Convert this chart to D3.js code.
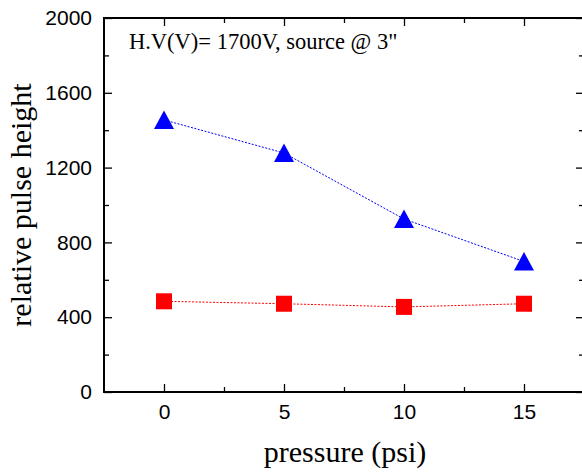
<!DOCTYPE html>
<html>
<head>
<meta charset="utf-8">
<script src="https://cdn.jsdelivr.net/npm/d3@7"></script>
<style>
  body { margin: 0; background: #fff; }
  svg { display: block; }
</style>
</head>
<body>
<div id="chart"></div>
<script>
// data
const pressure = [0, 5, 10, 15];
const triangleSeries = [1455, 1278, 925, 698];
const squareSeries = [485, 472, 455, 472];
const xTicks = [0, 5, 10, 15];
const yTicks = [0, 400, 800, 1200, 1600, 2000];

const width = 582, height = 472;
const margin = { top: 18, right: -2, bottom: 80, left: 104 };

const svg = d3.select("#chart").append("svg")
  .attr("width", width)
  .attr("height", height);

const x = d3.scaleLinear()
  .domain([-2.5, 17.5])
  .range([margin.left, width - margin.right]);

const y = d3.scaleLinear()
  .domain([0, 2000])
  .range([height - margin.bottom, margin.top]);

const axisColor = "#000";
const labelFont = "'Liberation Sans', Arial, sans-serif";
const titleFont = "'Liberation Serif', 'Times New Roman', serif";

// axes: ticks point inward
const xMinor = [2.5, 7.5, 12.5];
const yMinor = d3.range(200, 2000, 400);

function styleAxis(g) {
  g.select(".domain").remove();
  g.selectAll("line").attr("stroke", axisColor).attr("stroke-width", 1.3);
  g.selectAll("text").attr("font-family", labelFont).attr("font-size", 21).attr("fill", "#000");
}

// bottom
svg.append("g")
  .attr("transform", `translate(0,${y(0)})`)
  .call(d3.axisBottom(x).tickValues(xTicks).tickSize(-8).tickPadding(12).tickFormat(d3.format("d")))
  .call(styleAxis);
svg.append("g")
  .attr("transform", `translate(0,${y(0)})`)
  .call(d3.axisBottom(x).tickValues(xMinor).tickSize(-5).tickFormat(""))
  .call(styleAxis);

// top
svg.append("g")
  .attr("transform", `translate(0,${y(2000)})`)
  .call(d3.axisTop(x).tickValues(xTicks).tickSize(-8).tickFormat(""))
  .call(styleAxis);
svg.append("g")
  .attr("transform", `translate(0,${y(2000)})`)
  .call(d3.axisTop(x).tickValues(xMinor).tickSize(-5).tickFormat(""))
  .call(styleAxis);

// left
svg.append("g")
  .attr("transform", `translate(${x(-2.5)},0)`)
  .call(d3.axisLeft(y).tickValues(yTicks).tickSize(-8).tickPadding(12).tickFormat(d3.format("d")))
  .call(styleAxis);
svg.append("g")
  .attr("transform", `translate(${x(-2.5)},0)`)
  .call(d3.axisLeft(y).tickValues(yMinor).tickSize(-5).tickFormat(""))
  .call(styleAxis);

// right
svg.append("g")
  .attr("transform", `translate(${x(17.5)},0)`)
  .call(d3.axisRight(y).tickValues(yTicks).tickSize(-8).tickFormat(""))
  .call(styleAxis);
svg.append("g")
  .attr("transform", `translate(${x(17.5)},0)`)
  .call(d3.axisRight(y).tickValues(yMinor).tickSize(-5).tickFormat(""))
  .call(styleAxis);

// frame
svg.append("rect")
  .attr("x", x(-2.5))
  .attr("y", y(2000))
  .attr("width", x(17.5) - x(-2.5))
  .attr("height", y(0) - y(2000))
  .attr("fill", "none")
  .attr("stroke", axisColor)
  .attr("stroke-width", 2);

// series lines
const line = d3.line().x(d => x(d[0])).y(d => y(d[1]));

svg.append("path")
  .datum(d3.zip(pressure, squareSeries))
  .attr("d", line)
  .attr("fill", "none")
  .attr("stroke", "#ff0000")
  .attr("stroke-width", 1)
  .attr("stroke-dasharray", "2,1.5");

svg.append("path")
  .datum(d3.zip(pressure, triangleSeries))
  .attr("d", line)
  .attr("fill", "none")
  .attr("stroke", "#0000ff")
  .attr("stroke-width", 1)
  .attr("stroke-dasharray", "2,1.5");

// markers
svg.selectAll("rect.sq")
  .data(d3.zip(pressure, squareSeries))
  .join("rect")
  .attr("class", "sq")
  .attr("x", d => x(d[0]) - 8)
  .attr("y", d => y(d[1]) - 8)
  .attr("width", 16)
  .attr("height", 16)
  .attr("fill", "#ff0000");

svg.selectAll("path.tri")
  .data(d3.zip(pressure, triangleSeries))
  .join("path")
  .attr("class", "tri")
  .attr("d", d => {
    const cx = x(d[0]), cy = y(d[1]);
    return `M${cx},${cy - 9.5}L${cx + 10},${cy + 9}L${cx - 10},${cy + 9}Z`;
  })
  .attr("fill", "#0000ff");

// titles
svg.append("text")
  .attr("x", 345)
  .attr("y", 462)
  .attr("text-anchor", "middle")
  .attr("font-family", titleFont)
  .attr("font-size", 30)
  .text("pressure (psi)");

svg.append("text")
  .attr("transform", "translate(31,205) rotate(-90)")
  .attr("text-anchor", "middle")
  .attr("font-family", titleFont)
  .attr("font-size", 30)
  .text("relative pulse height");

svg.append("text")
  .attr("x", 129)
  .attr("y", 49)
  .attr("font-family", titleFont)
  .attr("font-size", 22.5)
  .text("H.V(V)= 1700V, source @ 3\"");
</script>
</body>
</html>
